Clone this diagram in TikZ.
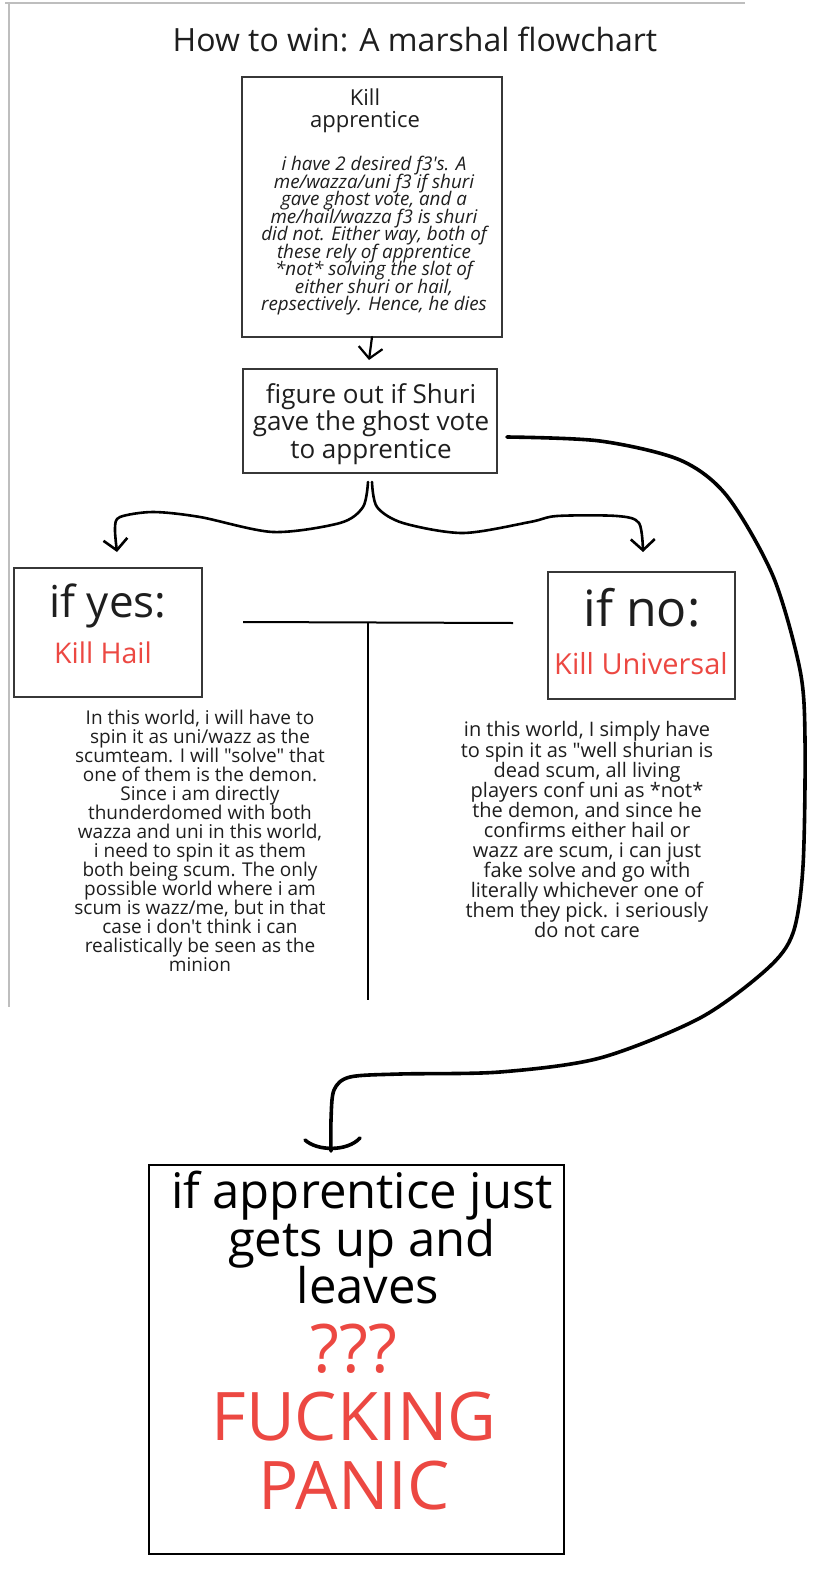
\documentclass[tikz,border=0pt]{standalone}
\usepackage{fontspec}
\setmainfont{Open Sans}[Ligatures=TeXOff]
\usetikzlibrary{arrows.meta,calc}
\definecolor{redtxt}{RGB}{236,72,66}
\definecolor{ink}{RGB}{30,30,30}
\definecolor{boxline}{RGB}{55,55,55}
\definecolor{framegray}{RGB}{190,190,190}
\lineskiplimit=-1000pt
\begin{document}
\begin{tikzpicture}[x=1pt,y=-1pt,
  box/.style={draw=boxline,line width=1.8pt,inner sep=0pt,outer sep=0pt},
  lbl/.style={inner sep=0pt,outer sep=0pt,align=center,text=ink},
  hand/.style={draw=black,line width=2.6pt,line cap=round,line join=round},
  barb/.style={-{Straight Barb[length=11pt,width=24pt]}},
  fs/.style 2 args={font=\fontsize{#1}{#2}\selectfont},
  fsi/.style 2 args={font=\fontsize{#1}{#2}\selectfont\itshape}]
\useasboundingbox (0,0) rectangle (826,1570);
\fill[white] (0,0) rectangle (826,1570);
% frame lines
\coordinate (f1) at (5,3); \coordinate (f2) at (745,3);
\coordinate (f3) at (9,3); \coordinate (f4) at (9,1007);
\draw[framegray,line width=2.5pt] (f1) -- (f2);
\draw[framegray,line width=1.4pt] (f3) -- (f4);

% title
\node[lbl,fs={32}{38},anchor=base] (title) at (415,52) {How to win: A marshal flowchart};

% boxes
\node[box,minimum width=260pt,minimum height=260pt] (b1) at (372,207) {};
\node[box,minimum width=254pt,minimum height=104pt] (b2) at (370,421) {};
\node[box,minimum width=188pt,minimum height=129pt] (by) at (108,632.5) {};
\node[box,minimum width=187pt,minimum height=127pt] (bn) at (641.5,635.5) {};
\node[box,draw=black,line width=2.6pt,minimum width=415pt,minimum height=389pt] (b5) at (356.5,1359.5) {};

% box 1 text
\node[lbl,fs={22}{22}] (t1a) at (365,110.3) {Kill\\apprentice};
\node[lbl,fsi={18.8}{17.5}] (t1b) at (374,236) {i have 2 desired f3's. A\\me/wazza/uni f3 if shuri\\gave ghost vote, and a\\me/hail/wazza f3 is shuri\\did not. Either way, both of\\these rely of apprentice\\*not* solving the slot of\\either shuri or hail,\\repsectively. Hence, he dies};

% box 2 text
\node[lbl,fs={26}{27.5}] (t2) at (371,423.7) {figure out if Shuri\\gave the ghost vote\\to apprentice};

% yes / no
\node[lbl,fs={44}{44},anchor=base] (ty1) at (108,617) {if yes:};
\node[lbl,fs={28.5}{28.5},anchor=base,text=redtxt] (ty2) at (103,663) {Kill Hail};
\node[lbl,fs={50}{50},anchor=base] (tn1) at (642,626) {if no:};
\node[lbl,fs={29}{29},anchor=base,text=redtxt] (tn2) at (641,674) {Kill Universal};

% body texts
\node[lbl,fs={19}{19}] (ly) at (200,841.3) {In this world, i will have to\\spin it as uni/wazz as the\\scumteam. I will "solve" that\\one of them is the demon.\\Since i am directly\\thunderdomed with both\\wazza and uni in this world,\\i need to spin it as them\\both being scum. The only\\possible world where i am\\scum is wazz/me, but in that\\case i don't think i can\\realistically be seen as the\\minion};
\node[lbl,fs={20}{20.1}] (ln) at (587,829.9) {in this world, I simply have\\to spin it as "well shurian is\\dead scum, all living\\players conf uni as *not*\\the demon, and since he\\confirms either hail or\\wazz are scum, i can just\\fake solve and go with\\literally whichever one of\\them they pick. i seriously\\do not care};

% bottom box text
\node[lbl,fs={49}{47.5},text=black] (t5a) at (362,1237.9) {if apprentice just\\gets up and\\\hspace*{12pt}leaves};
\node[lbl,fs={67}{68.5},text=redtxt] (t5b) at (354,1417) {???\\FUCKING\\PANIC};

% T divider
\coordinate (tl) at (243,622); \coordinate (tr) at (513,623);
\coordinate (tm) at (368,622); \coordinate (tb) at (368,1000);
\draw[black,line width=2pt] (tl) -- (tr);
\draw[black,line width=2pt] (tm) -- (tb);

% arrow box1 -> box2
\coordinate (a1e) at ($(b2.north)+(-1,-9)$);
\draw[hand,barb,line width=2.2pt] (b1.south) -- (a1e);

% brace split
\coordinate (bl) at ($(b2.south)+(-2,9)$);
\coordinate (br) at ($(b2.south)+(2,9)$);
\coordinate (yl) at ($(by.north)+(9,-16)$);
\coordinate (nr) at ($(bn.north)+(1.5,-20)$);
\draw[hand,barb] plot[smooth] coordinates {(bl) (363,507) (340,523) (273,532) (200,517) (153,512) (120,517) (115,528) (yl)};
\draw[hand,barb] plot[smooth] coordinates {(br) (377,507) (403,523) (463,533) (530,522) (557,516) (617,516) (639,523) (nr)};

% big curve to bottom, ending in a bowl-shaped head
\coordinate (cs) at ($(b2.east)+(10,16)$);
\coordinate (ce) at ($(b5.north)+(-25.5,-14)$);
\coordinate (hl) at ($(ce)+(-26,-11)$);
\coordinate (hr) at ($(ce)+(29,-13)$);
\draw[hand,line width=3.6pt] plot[smooth] coordinates {(cs) (600,441) (680,460) (727,496) (773,576) (800,670) (805,740) (803,866) (793,933) (767,969) (700,1018) (600,1058) (500,1072) (400,1074) (350,1077) (334,1090) (331,1120) (ce)};
\draw[hand,line width=3.6pt] (hl) .. controls ($(ce)+(-14,0)$) and ($(ce)+(16,1)$) .. (hr);
\end{tikzpicture}
\end{document}
